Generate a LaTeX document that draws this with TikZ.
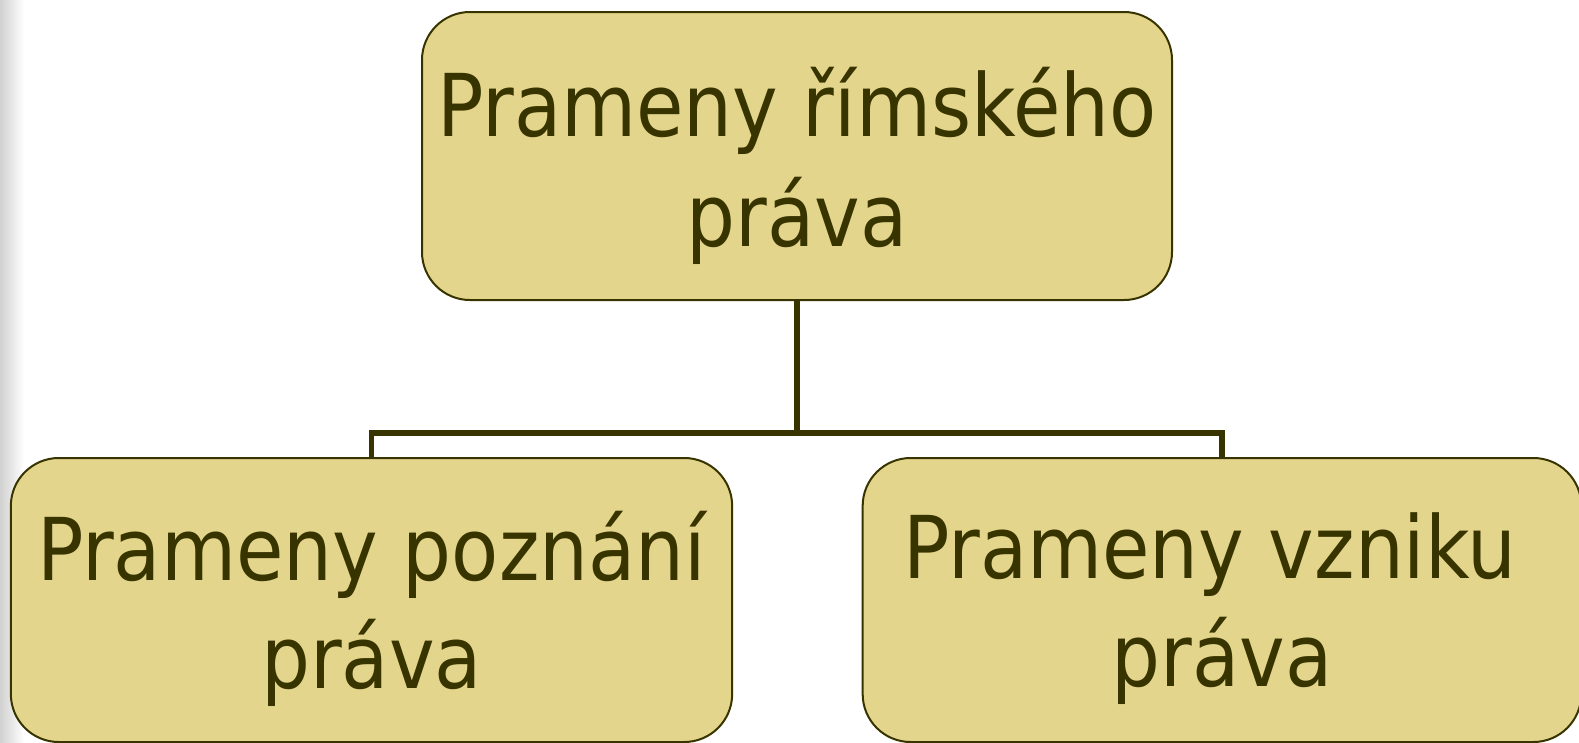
\documentclass[tikz,border=0pt]{standalone}
\usepackage{fontspec}
\setmainfont{DejaVu Sans}[FakeStretch=0.89]
\definecolor{boxfill}{RGB}{228,213,140}
\definecolor{ink}{RGB}{56,52,0}
\tikzset{
  box/.style={draw=ink, fill=boxfill, line width=1.5pt, rounded corners=36pt,
    inner sep=0pt},
  label/.style={align=center, text=ink, inner sep=0pt,
    font=\fontsize{65}{81}\selectfont},
  link/.style={draw=ink, line width=4.3pt, line join=miter}
}
\begin{document}
\begin{tikzpicture}[x=0.75pt,y=-0.75pt]
\useasboundingbox (0,0) rectangle (1579,743);
\fill[white] (0,0) rectangle (1579,743);
\shade[left color=black!18, right color=white] (0,0) rectangle (24,743);
\node[box, minimum width=562.5pt, minimum height=216pt] (top) at (797,156) {};
\node[box, minimum width=541pt, minimum height=213pt] (left) at (371.5,600) {};
\node[box, minimum width=539pt, minimum height=213pt] (right) at (1222,600) {};
\node[label, font=\fontsize{65}{82.5}\selectfont] (toptext) at (797,166) {Prameny římského\\práva};
\node[label] (lefttext) at (371.5,609) {Prameny poznání\\práva};
\node[label] (righttext) at (1222,609) {Prameny vzniku\hspace*{0.28em}\\práva};
\coordinate (j) at (797,433);
\draw[link] (top.south) -- (j);
\draw[link] (left.north) |- (j) -| (right.north);
\end{tikzpicture}
\end{document}
